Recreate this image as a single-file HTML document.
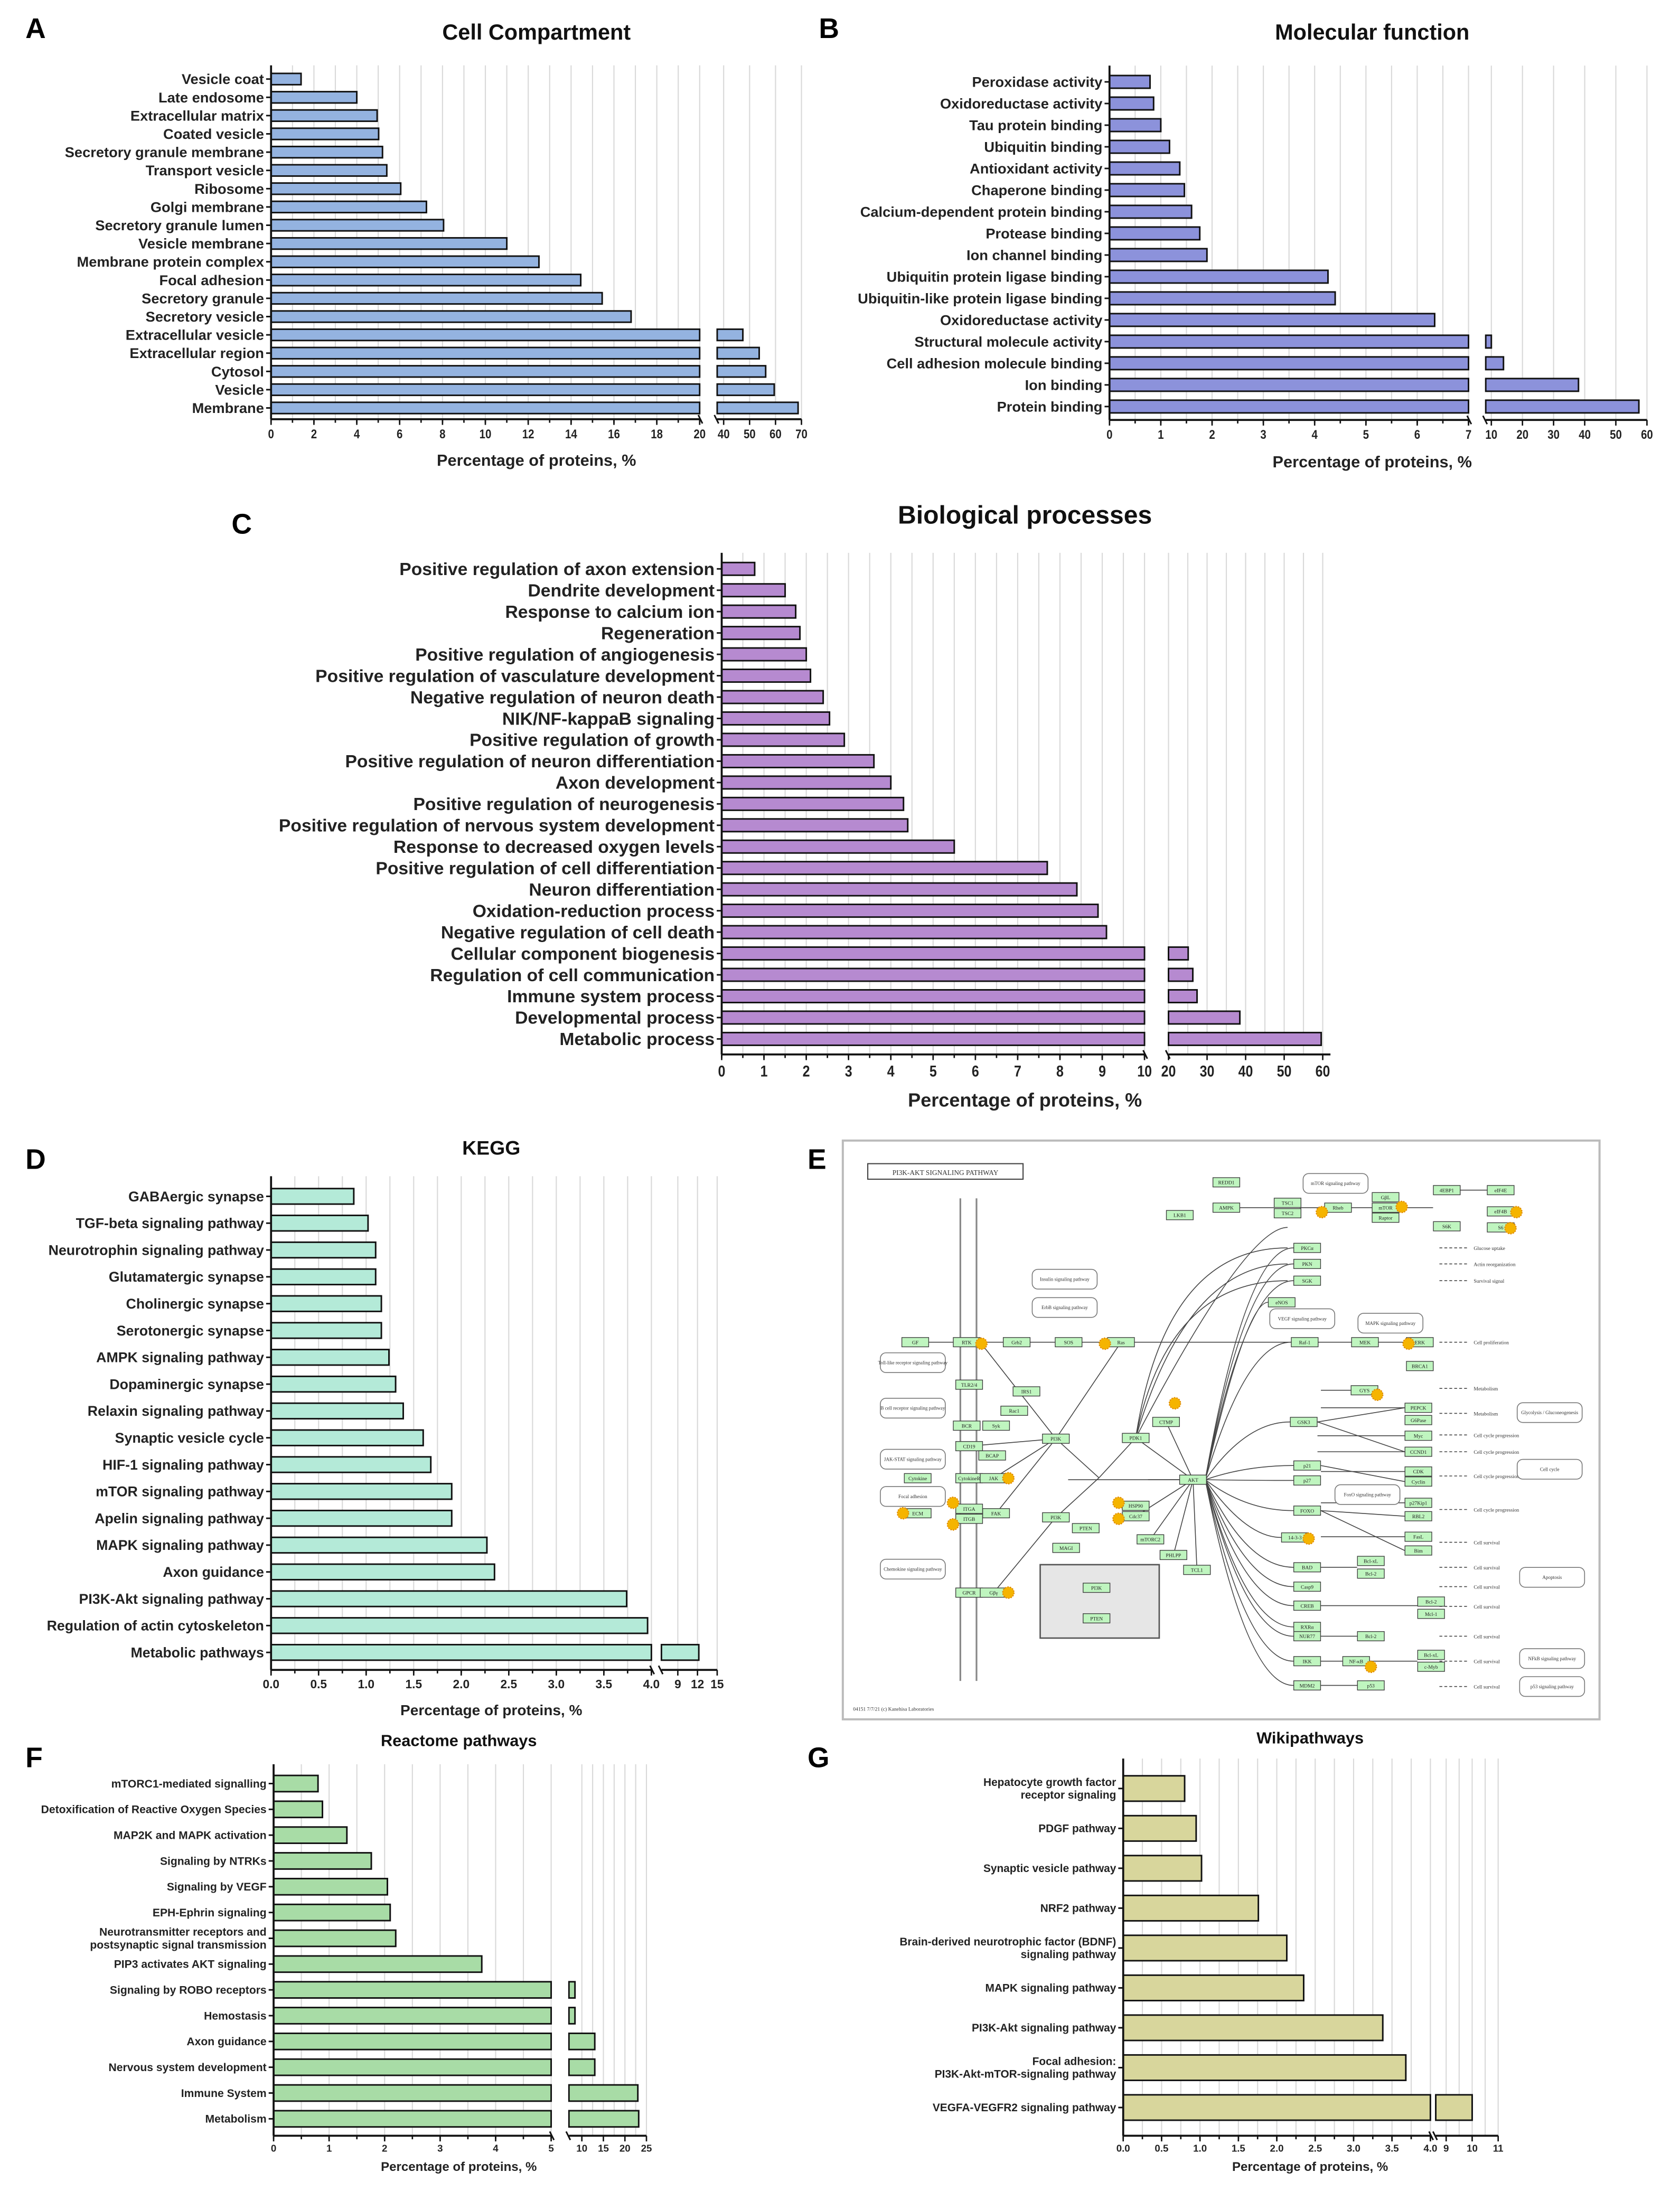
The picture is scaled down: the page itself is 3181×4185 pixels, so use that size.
<!DOCTYPE html>
<html><head><meta charset="utf-8"><style>
html,body{margin:0;padding:0;background:#fff;}
svg{display:block;}
text{font-family:"Liberation Sans",sans-serif;}
</style></head><body>
<svg id="fig" xmlns="http://www.w3.org/2000/svg" width="3181" height="4185" viewBox="0 0 1190 1565.6">
<rect x="0" y="0" width="1190" height="1566" fill="#fff"/>
<g font-weight="bold" font-size="20" fill="#000">
<text x="18" y="27">A</text>
<text x="580" y="27">B</text>
<text x="164" y="378">C</text>
<text x="18" y="828">D</text>
<text x="572" y="828">E</text>
<text x="18" y="1252">F</text>
<text x="572" y="1252">G</text>
</g>
<g id="charts"></g>
<g id="kegg"></g>
</svg>
<script>
// ---------- Panel A data ----------
const aCats=["Vesicle coat","Late endosome","Extracellular matrix","Coated vesicle","Secretory granule membrane","Transport vesicle","Ribosome","Golgi membrane","Secretory granule lumen","Vesicle membrane","Membrane protein complex","Focal adhesion","Secretory granule","Secretory vesicle","Extracellular vesicle","Extracellular region","Cytosol","Vesicle","Membrane"];
const aVals=[1.4,4.0,4.95,5.02,5.2,5.4,6.05,7.25,8.05,11,12.5,14.45,15.45,16.8,47.4,53.7,56.2,59.5,68.7];
const aTicks1=[0,2,4,6,8,10,12,14,16,18,20];
const aTicks2=[40,50,60,70];
// ---------- Panel B data ----------
const bCats=["Peroxidase activity","Oxidoreductase activity","Tau protein binding","Ubiquitin binding","Antioxidant activity","Chaperone binding","Calcium-dependent protein binding","Protease binding","Ion channel binding","Ubiquitin protein ligase binding","Ubiquitin-like protein ligase binding","Oxidoreductase activity","Structural molecule activity","Cell adhesion molecule binding","Ion binding","Protein binding"];
const bVals=[0.79,0.86,1.0,1.17,1.37,1.46,1.6,1.76,1.9,4.26,4.4,6.34,10,13.9,38,57.4];
const bTicks1=[0,1,2,3,4,5,6,7];
const bTicks2=[10,20,30,40,50,60];
// ---------- Panel C data ----------
const cCats=["Positive regulation of axon extension","Dendrite development","Response to calcium ion","Regeneration","Positive regulation of angiogenesis","Positive regulation of vasculature development","Negative regulation of neuron death","NIK/NF-kappaB signaling","Positive regulation of growth","Positive regulation of neuron differentiation","Axon development","Positive regulation of neurogenesis","Positive regulation of nervous system development","Response to decreased oxygen levels","Positive regulation of cell differentiation","Neuron differentiation","Oxidation-reduction process","Negative regulation of cell death","Cellular component biogenesis","Regulation of cell communication","Immune system process","Developmental process","Metabolic process"];
const cVals=[0.78,1.5,1.75,1.85,2.0,2.1,2.4,2.55,2.9,3.6,4.0,4.3,4.4,5.5,7.7,8.4,8.9,9.1,25.1,26.3,27.4,38.5,59.6];
const cTicks1=[0,1,2,3,4,5,6,7,8,9,10];
const cTicks2=[20,30,40,50,60];
// ---------- Panel D data ----------
const dCats=["GABAergic synapse","TGF-beta signaling pathway","Neurotrophin signaling pathway","Glutamatergic synapse","Cholinergic synapse","Serotonergic synapse","AMPK signaling pathway","Dopaminergic synapse","Relaxin signaling pathway","Synaptic vesicle cycle","HIF-1 signaling pathway","mTOR signaling pathway","Apelin signaling pathway","MAPK signaling pathway","Axon guidance","PI3K-Akt signaling pathway","Regulation of actin cytoskeleton","Metabolic pathways"];
const dVals=[0.87,1.02,1.1,1.1,1.16,1.16,1.24,1.31,1.39,1.6,1.68,1.9,1.9,2.27,2.35,3.74,3.96,12.2];
const dTicks1=[0,0.5,1,1.5,2,2.5,3,3.5,4];
const dTicks1Labels=["0.0","0.5","1.0","1.5","2.0","2.5","3.0","3.5","4.0"];
const dTicks2=[9,12,15];
// ---------- Panel F data ----------
const fCats=["mTORC1-mediated signalling","Detoxification of Reactive Oxygen Species","MAP2K and MAPK activation","Signaling by NTRKs","Signaling by VEGF","EPH-Ephrin signaling","Neurotransmitter receptors and\npostsynaptic signal transmission","PIP3 activates AKT signaling","Signaling by ROBO receptors","Hemostasis","Axon guidance","Nervous system development","Immune System","Metabolism"];
const fVals=[0.8,0.88,1.32,1.76,2.05,2.1,2.2,3.75,8.4,8.4,13,13,23,23.2];
const fTicks1=[0,1,2,3,4,5];
const fTicks2=[10,15,20,25];
// ---------- Panel G data ----------
const gCats=["Hepatocyte growth factor\nreceptor signaling","PDGF pathway","Synaptic vesicle pathway","NRF2 pathway","Brain-derived neurotrophic factor (BDNF)\nsignaling pathway","MAPK signaling pathway","PI3K-Akt signaling pathway","Focal adhesion:\nPI3K-Akt-mTOR-signaling pathway","VEGFA-VEGFR2 signaling pathway"];
const gVals=[0.8,0.95,1.02,1.76,2.13,2.35,3.38,3.68,10];
const gTicks1=[0,0.5,1,1.5,2,2.5,3,3.5,4];
const gTicks1Labels=["0.0","0.5","1.0","1.5","2.0","2.5","3.0","3.5","4.0"];
const gTicks2=[9,10,11];

const NS="http://www.w3.org/2000/svg";
function mk(tag,attrs,parent){const e=document.createElementNS(NS,tag);for(const k in attrs)e.setAttribute(k,attrs[k]);if(parent)parent.appendChild(e);return e;}
function narrow(t,x,f){t.setAttribute('transform',`matrix(${f},0,0,1,${x*(1-f)},0)`);}

function chart(c){
  const g=mk('g',{},document.getElementById('charts'));
  
  
  const n=c.cats.length, step=(c.yLast-c.yFirst)/(n-1);
  const s1=c.seg1, s2=c.seg2, nf=c.narrow||1;
  const sc1=v=>s1.p0+(v-s1.d0)/(s1.d1-s1.d0)*(s1.p1-s1.p0);
  const sc2=v=>s2.p0+(v-s2.d0)/(s2.d1-s2.d0)*(s2.p1-s2.p0);
  const top=c.yFirst-step*0.75, ay=c.axisY;
  for(let v=s1.d0+c.minor1; v<=s1.d1+1e-9; v+=c.minor1){
    const x=sc1(v);
    const l=mk('line',{x1:x,x2:x,y1:top,y2:ay,stroke:'#d9d9d9','stroke-width':0.8},g);
    
    
  }
  for(let v=c.minor2Start; v<=s2.d1+1e-9; v+=c.minor2){
    const x=sc2(v);
    const l=mk('line',{x1:x,x2:x,y1:top,y2:ay,stroke:'#d9d9d9','stroke-width':0.8},g);
    
    
  }
  c.cats.forEach((cat,i)=>{
    const y=c.yFirst+i*step, v=c.vals[i], h=c.barH;
    const e1=Math.min(v,s1.d1);
    const r=mk('rect',{x:s1.p0,y:y-h/2,width:sc1(e1)-s1.p0,height:h,fill:c.color,stroke:'#111','stroke-width':1.1},g);
    
    
    if(v>s1.d1){
      const r2=mk('rect',{x:s2.p0,y:y-h/2,width:Math.max(sc2(v)-s2.p0,1),height:h,fill:c.color,stroke:'#111','stroke-width':1.1},g);
      
      
      const gap=mk('rect',{x:s1.p1+0.6,y:y-h/2-1,width:s2.p0-s1.p1-1.2,height:h+2,fill:'#fff'},g);
      
      
    }
    mk('line',{x1:s1.p0-3.5,x2:s1.p0,y1:y,y2:y,stroke:'#111','stroke-width':1.1},g);
    const lines=cat.split('\n');
    const lx=s1.p0-5;
    const t=mk('text',{x:lx,'text-anchor':'end','font-size':c.labelSize,'font-weight':'bold',fill:'#222'},g);
    if(nf!==1)narrow(t,lx,nf);
    
    
    lines.forEach((ln,j)=>{
      const ts=mk('tspan',{x:lx,y:y+c.labelSize*0.35+(j-(lines.length-1)/2)*c.labelSize*1.15},t);
      ts.textContent=ln;
    });
  });
  mk('line',{x1:s1.p0,x2:s1.p0,y1:top,y2:ay,stroke:'#111','stroke-width':1.4},g);
  const ax1=mk('line',{x1:s1.p0,x2:s1.p1,y1:ay,y2:ay,stroke:'#111','stroke-width':1.4},g);
  
  
  mk('line',{x1:s2.p0,x2:s2.p1,y1:ay,y2:ay,stroke:'#111','stroke-width':1.4},g);
  mk('line',{x1:s1.p1-1,x2:s1.p1+2,y1:ay-3,y2:ay+3,stroke:'#111','stroke-width':1.1},g);
  mk('line',{x1:s2.p0-2,x2:s2.p0+1,y1:ay-3,y2:ay+3,stroke:'#111','stroke-width':1.1},g);
  for(let v=s1.d0; v<=s1.d1+1e-9; v+=c.minor1){
    const x=sc1(v); mk('line',{x1:x,x2:x,y1:ay,y2:ay+2.5,stroke:'#111','stroke-width':1},g);
  }
  const tick=(x,lab)=>{
    mk('line',{x1:x,x2:x,y1:ay,y2:ay+4,stroke:'#111','stroke-width':1},g);
    const t=mk('text',{x:x,y:ay+4+c.tickSize*1.05,'text-anchor':'middle','font-size':c.tickSize,'font-weight':'bold',fill:'#222'},g);
    if(c.tickNarrow)narrow(t,x,c.tickNarrow);
    
    
    t.textContent=lab;
  };
  c.ticks1.forEach((v,i)=>tick(sc1(v),c.ticks1Labels?c.ticks1Labels[i]:String(v)));
  c.ticks2.forEach(v=>tick(sc2(v),String(v)));
  const xt=mk('text',{x:c.xTitleX,y:c.xTitleY,'text-anchor':'middle','font-size':c.xTitleSize,'font-weight':'bold',fill:'#222'},g);
  
  
  xt.textContent='Percentage of proteins, %';
  const tt=mk('text',{x:c.titleX,y:c.titleY,'text-anchor':'middle','font-size':c.titleSize,'font-weight':'bold',fill:'#111'},g);
  
  
  tt.textContent=c.title;
}

chart({name:'cell-compartment-chart',cats:aCats,vals:aVals,seg1:{d0:0,d1:20,p0:192,p1:495.6},seg2:{d0:37.5,d1:70,p0:508,p1:567.7},
  ticks1:aTicks1,ticks2:aTicks2,minor1:1,minor2:10,minor2Start:40,yFirst:56,yLast:289,barH:8,axisY:297,color:'#94b3e0',
  labelSize:10.2,tickSize:9,tickNarrow:0.85,xTitleX:380,xTitleY:330,xTitleSize:11.5,title:'Cell Compartment',titleX:380,titleY:28,titleSize:15.5});
chart({name:'molecular-function-chart',cats:bCats,vals:bVals,seg1:{d0:0,d1:7,p0:785.9,p1:1040.2},seg2:{d0:8.2,d1:60,p0:1052.4,p1:1166.6},
  ticks1:bTicks1,ticks2:bTicks2,minor1:0.5,minor2:10,minor2Start:10,yFirst:58,yLast:288,barH:9,axisY:297.5,color:'#8c92db',
  labelSize:10.2,tickSize:9,tickNarrow:0.85,xTitleX:972,xTitleY:331,xTitleSize:11.5,title:'Molecular function',titleX:972,titleY:28,titleSize:15.5});
chart({name:'biological-processes-chart',cats:cCats,vals:cVals,seg1:{d0:0,d1:10,p0:511.2,p1:810.7},seg2:{d0:20,d1:62,p0:827.7,p1:942.4},
  ticks1:cTicks1,ticks2:cTicks2,minor1:0.5,minor2:5,minor2Start:20,yFirst:403,yLast:736,barH:9,axisY:747,color:'#b68ad0',
  labelSize:12.6,tickSize:11,tickNarrow:0.85,xTitleX:726,xTitleY:784,xTitleSize:13.5,title:'Biological processes',titleX:726,titleY:371,titleSize:18});
chart({name:'kegg-chart',cats:dCats,vals:dVals,seg1:{d0:0,d1:4,p0:192,p1:461.4},seg2:{d0:6.5,d1:15,p0:468.5,p1:508},
  ticks1:dTicks1,ticks1Labels:dTicks1Labels,ticks2:dTicks2,minor1:0.25,minor2:3,minor2Start:9,yFirst:847.5,yLast:1170.6,barH:11,axisY:1183,color:'#b4ead8',
  labelSize:10,tickSize:8.5,xTitleX:348,xTitleY:1215,xTitleSize:10.5,title:'KEGG',titleX:348,titleY:818,titleSize:14});
chart({name:'reactome-chart',cats:fCats,vals:fVals,seg1:{d0:0,d1:5,p0:193.8,p1:390.4},seg2:{d0:7,d1:25,p0:403,p1:457.9},
  ticks1:fTicks1,ticks2:fTicks2,minor1:0.5,minor2:2.5,minor2Start:10,yFirst:1263.5,yLast:1501,barH:11.5,axisY:1513,color:'#a8dca6',
  labelSize:7.9,tickSize:7,xTitleX:325,xTitleY:1538,xTitleSize:9,title:'Reactome pathways',titleX:325,titleY:1237,titleSize:11.5});
chart({name:'wikipathways-chart',cats:gCats,vals:gVals,seg1:{d0:0,d1:4,p0:795.6,p1:1013.2},seg2:{d0:8.6,d1:11,p0:1017,p1:1061.2},
  ticks1:gTicks1,ticks1Labels:gTicks1Labels,ticks2:gTicks2,minor1:0.25,minor2:0.5,minor2Start:9,yFirst:1267,yLast:1493,barH:18,axisY:1513,color:'#d8d69c',
  labelSize:7.8,tickSize:7,xTitleX:928,xTitleY:1538,xTitleSize:9,title:'Wikipathways',titleX:928,titleY:1235,titleSize:11.5});

// ---------- Panel E: PI3K-Akt pathway diagram (schematic) ----------
(function(){
  const K=document.getElementById('kegg');
  const X=z=>598+z*0.347, Y=z=>808+z*0.264;
  const fr=mk('rect',{x:597,y:808,width:536,height:410,fill:'#fff',stroke:'#bbb','stroke-width':1.5},K);
  
  
  const tb=mk('rect',{x:X(48),y:Y(62),width:110,height:11,fill:'#fff',stroke:'#444','stroke-width':0.8},K);
  
  
  const tt=mk('text',{x:X(48)+55,y:Y(62)+8,'text-anchor':'middle','font-size':5,fill:'#333',style:'font-family:"Liberation Serif",serif'},K);
  
  
  tt.textContent='PI3K-AKT SIGNALING PATHWAY';
  [237,270].forEach(z=>mk('line',{x1:X(z),x2:X(z),y1:Y(155),y2:Y(1450),stroke:'#888','stroke-width':1.2},K));
  const gb=mk('rect',{x:X(400),y:Y(1138),width:243*0.347,height:197*0.264,fill:'#e6e6e6',stroke:'#555','stroke-width':1},K);
  
  
  const akt=[712,910];
  const boxes=[["GF",145,541],["RTK",250,541],["Grb2",352,541],["SOS",458,541],["Ras",565,541],["Raf-1",940,541],["MEK",1063,541],["ERK",1175,541],["BRCA1",1175,605],
  ["TLR2/4",255,655],["IRS1",372,673],["Rac1",347,725],["BCR",250,765],["Syk",310,765],["CD19",255,820],["BCAP",302,845],["PI3K",432,800],["Cytokine",150,906],["CytokineR",255,906],["JAK",305,906],
  ["ITGA",255,988],["ITGB",255,1015],["ECM",150,1000],["FAK",310,1000],["GPCR",255,1213],["Gβγ",305,1213],["PI3K",432,1011],["PTEN",493,1040],["MAGI",453,1093],["PDK1",595,798],["CTMP",657,755],
  ["HSP90",595,980],["Cdc37",595,1008],["mTORC2",625,1070],["PHLPP",672,1112],["TCL1",720,1152],["AKT",712,910],["REDD1",780,112],["AMPK",780,180],["LKB1",685,200],["TSC1",905,167],["TSC2",905,195],
  ["Rheb",1008,180],["GβL",1105,152],["mTOR",1105,180],["Raptor",1105,207],["4EBP1",1230,133],["eIF4E",1340,133],["S6K",1230,230],["eIF4B",1340,190],["S6",1340,233],["PKCα",945,288],["PKN",945,331],["SGK",945,376],
  ["eNOS",893,434],["GYS",1062,670],["GSK3",938,755],["PEPCK",1172,717],["G6Pase",1172,750],["Myc",1172,792],["CCND1",1172,835],["p21",945,872],["p27",945,912],["CDK",1172,888],["Cyclin",1172,915],
  ["FOXO",945,993],["p27Kip1",1172,972],["RBL2",1172,1008],["14-3-3",920,1065],["FasL",1172,1063],["Bim",1172,1100],["BAD",945,1145],["Bcl-xL",1075,1128],["Bcl-2",1075,1162],["Casp9",945,1197],
  ["CREB",945,1248],["Bcl-2",1198,1237],["Mcl-1",1198,1270],["RXRα",945,1305],["NUR77",945,1330],["Bcl-2",1075,1330],["IKK",945,1397],["NF-κB",1045,1397],["Bcl-xL",1198,1380],["c-Myb",1198,1412],["MDM2",945,1462],["p53",1075,1462],
  ["PTEN",515,1282],["PI3K",515,1200]];
  boxes.forEach(b=>{ if(b[1]>800 && b[1]<1000 && b[2]>250){
    mk('path',{d:`M${X(akt[0]+25)},${Y(akt[1])} Q${X(820)},${Y(b[2])} ${X(b[1]-28)},${Y(b[2])}`,fill:'none',stroke:'#444','stroke-width':0.6},K);
  }});
  [[945,1062,670],[945,1172,717],[938,1172,792],[938,1172,835],[945,1172,888],[945,1172,972],[945,1172,1063],[945,1075,1145],[945,1198,1248],[945,1075,1330],[945,1045,1397],[1045,1198,1397],[945,1075,1462]].forEach(s=>{
    mk('line',{x1:X(s[0]+28),x2:X(s[1]-28),y1:Y(s[2]),y2:Y(s[2]),stroke:'#444','stroke-width':0.6},K);
  });
  [[938,755,1172,717],[938,755,1172,835],[945,993,1172,1008],[945,993,1172,1100],[945,872,1172,915]].forEach(s=>{
    mk('line',{x1:X(s[0]+28),y1:Y(s[1]),x2:X(s[2]-28),y2:Y(s[3]),stroke:'#444','stroke-width':0.6},K);
  });
  [[145,250],[250,352],[352,458],[458,565],[565,940],[940,1063],[1063,1175],[432,712],[595,712],[780,905],[905,1008],[1008,1105],[1105,1230],[1230,1340]].forEach((pr,i)=>{
    const yy=[541,541,541,541,541,541,541,910,910,180,180,180,180,133][i];
    mk('line',{x1:X(pr[0]+25),x2:X(pr[1]-28),y1:Y(yy),y2:Y(yy),stroke:'#444','stroke-width':0.6},K);
  });
  [[280,545,432,800],[565,541,432,800],[432,800,520,905],[432,1011,520,905],[305,1213,432,1011],[520,905,595,798],[595,798,712,910],[595,1008,712,910],[625,1070,712,910],[672,1112,712,910],[720,1152,712,910],[657,755,712,910],[310,1000,432,800],[305,906,432,800],[255,820,432,800]].forEach(s=>{
    mk('line',{x1:X(s[0]),y1:Y(s[1]),x2:X(s[2]),y2:Y(s[3]),stroke:'#444','stroke-width':0.6},K);
  });
  [820,655,700,660].forEach((z,i)=>{
    const yy=[233,288,331,376][i];
    mk('path',{d:`M${X(595)},${Y(798)} Q${X(z)},${Y(yy)} ${X(905)},${Y(yy)}`,fill:'none',stroke:'#444','stroke-width':0.6},K);
  });
  [[288,"Glucose uptake"],[331,"Actin reorganization"],[376,"Survival signal"],[541,"Cell proliferation"],[665,"Metabolism"],[732,"Metabolism"],[790,"Cell cycle progression"],[835,"Cell cycle progression"],[900,"Cell cycle progression"],[990,"Cell cycle progression"],[1078,"Cell survival"],[1145,"Cell survival"],[1197,"Cell survival"],[1250,"Cell survival"],[1330,"Cell survival"],[1397,"Cell survival"],[1465,"Cell survival"]].forEach(o=>{
    mk('line',{x1:X(1215),x2:X(1275),y1:Y(o[0]),y2:Y(o[0]),stroke:'#444','stroke-width':0.6,'stroke-dasharray':'2,1.5'},K);
    const t=mk('text',{x:X(1285),y:Y(o[0])+1.5,'font-size':3.6,fill:'#333',style:'font-family:"Liberation Serif",serif'},K);
    
    
    t.textContent=o[1];
  });
  boxes.forEach(b=>{
    const w=19,h=6.6;
    const r=mk('rect',{x:X(b[1])-w/2,y:Y(b[2])-h/2,width:w,height:h,fill:'#bff5bf',stroke:'#3a3a3a','stroke-width':0.5},K);
    
    
    const t=mk('text',{x:X(b[1]),y:Y(b[2])+1.4,'text-anchor':'middle','font-size':3.6,fill:'#222',style:'font-family:"Liberation Serif",serif'},K);
    t.textContent=b[0];
  });
  [[140,596,"Toll-like receptor signaling pathway"],[140,718,"B cell receptor signaling pathway"],[140,855,"JAK-STAT signaling pathway"],[140,955,"Focal adhesion"],[140,1150,"Chemokine signaling pathway"],
   [450,372,"Insulin signaling pathway"],[450,448,"ErbB signaling pathway"],[935,478,"VEGF signaling pathway"],[1115,490,"MAPK signaling pathway"],[1003,115,"mTOR signaling pathway"],[1068,950,"FoxO signaling pathway"],
   [1440,730,"Glycolysis / Gluconeogenesis"],[1440,882,"Cell cycle"],[1445,1172,"Apoptosis"],[1445,1390,"NFkB signaling pathway"],[1445,1465,"p53 signaling pathway"]].forEach(p=>{
    const r=mk('rect',{x:X(p[0])-23,y:Y(p[1])-7,width:46,height:14,rx:4,fill:'#fff',stroke:'#777','stroke-width':0.6},K);
    
    
    const t=mk('text',{x:X(p[0]),y:Y(p[1])+1.2,'text-anchor':'middle','font-size':3.4,fill:'#333',style:'font-family:"Liberation Serif",serif'},K);
    t.textContent=p[2];
  });
  [[280,545],[532,545],[1152,545],[1088,682],[335,906],[222,972],[120,1000],[222,1030],[675,705],[560,972],[560,1015],[948,1068],[335,1213],[1075,1412],[975,192],[1138,178],[1372,192],[1360,235]].forEach(s=>{
    const c=mk('circle',{cx:X(s[0]),cy:Y(s[1]),r:4,fill:'#f5b400',stroke:'#e08a00','stroke-width':0.8,'stroke-dasharray':'1,0.8'},K);
    
    
  });
  const ft=mk('text',{x:X(18),y:Y(1530),'font-size':3.6,fill:'#333',style:'font-family:"Liberation Serif",serif'},K);
  ft.textContent='04151 7/7/21 (c) Kanehisa Laboratories';
})();
</script>
</body></html>
